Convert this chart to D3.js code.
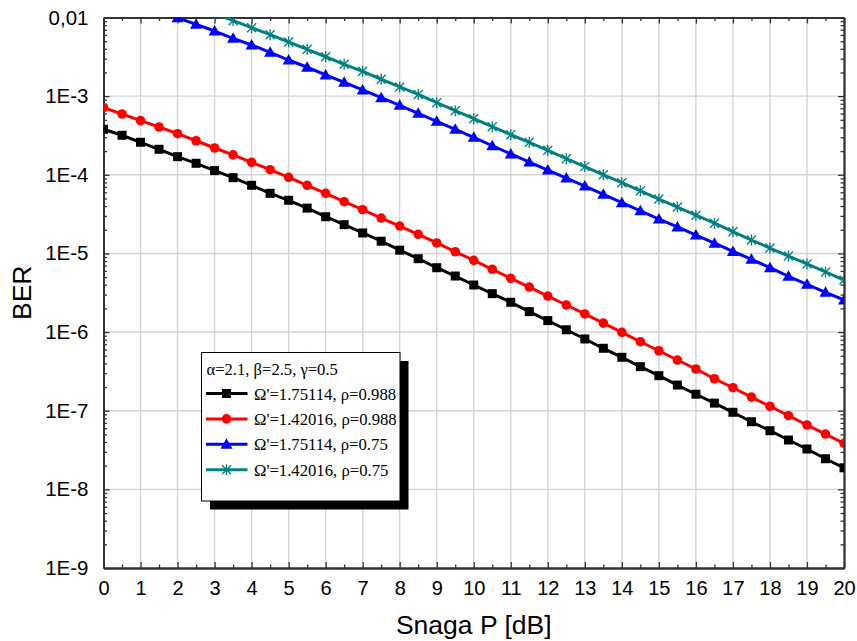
<!DOCTYPE html>
<html>
<head>
<meta charset="utf-8">
<script src="https://cdn.jsdelivr.net/npm/d3@7"></script>
<style>
  html, body { margin: 0; padding: 0; background: #fff; }
  svg { display: block; }
</style>
</head>
<body>
<svg id="chart" width="857" height="641"></svg>
<script>
// SNR axis samples (dB), one point every 0.5 dB
const snr = d3.range(0, 20.01, 0.5);

// BER curves
const berBlack = [3.79e-4, 3.18e-4, 2.59e-4, 2.11e-4, 1.70e-4, 1.40e-4, 1.13e-4, 9.18e-5, 7.35e-5, 5.81e-5,
  4.74e-5, 3.77e-5, 2.93e-5, 2.32e-5, 1.82e-5, 1.43e-5, 1.10e-5, 8.57e-6, 6.58e-6, 5.16e-6,
  3.97e-6, 3.08e-6, 2.39e-6, 1.82e-6, 1.40e-6, 1.07e-6, 8.17e-7, 6.22e-7, 4.78e-7, 3.63e-7,
  2.79e-7, 2.12e-7, 1.62e-7, 1.25e-7, 9.55e-8, 7.24e-8, 5.57e-8, 4.24e-8, 3.26e-8, 2.45e-8, 1.88e-8];
const berRed = [7.13e-4, 5.93e-4, 4.88e-4, 4.05e-4, 3.33e-4, 2.71e-4, 2.19e-4, 1.79e-4, 1.44e-4, 1.16e-4,
  9.29e-5, 7.35e-5, 5.81e-5, 4.55e-5, 3.60e-5, 2.82e-5, 2.23e-5, 1.75e-5, 1.36e-5, 1.05e-5,
  8.17e-6, 6.28e-6, 4.83e-6, 3.74e-6, 2.87e-6, 2.21e-6, 1.70e-6, 1.30e-6, 9.93e-7, 7.54e-7,
  5.79e-7, 4.41e-7, 3.39e-7, 2.55e-7, 1.96e-7, 1.49e-7, 1.14e-7, 8.64e-8, 6.58e-8, 5.05e-8, 3.85e-8];
// the two rho=0.75 curves start above the top of the BER range
const snrBlue = d3.range(1.5, 20.01, 0.5);
const berBlue = [1.245e-2, 9.9e-3, 8.19e-3, 6.73e-3, 5.44e-3, 4.47e-3, 3.61e-3, 2.88e-3, 2.33e-3, 1.86e-3,
  1.50e-3, 1.20e-3, 9.55e-4, 7.64e-4, 6.05e-4, 4.79e-4, 3.79e-4, 3.00e-4, 2.34e-4, 1.84e-4,
  1.45e-4, 1.15e-4, 9.10e-5, 7.20e-5, 5.65e-5, 4.42e-5, 3.48e-5, 2.74e-5, 2.17e-5, 1.71e-5,
  1.35e-5, 1.06e-5, 8.42e-6, 6.58e-6, 5.12e-6, 4.05e-6, 3.20e-6, 2.56e-6];
const snrTeal = d3.range(3, 20.01, 0.5);
const berTeal = [1.125e-2, 9.11e-3, 7.42e-3, 6.04e-3, 4.88e-3, 3.94e-3, 3.17e-3, 2.54e-3, 2.07e-3, 1.64e-3,
  1.31e-3, 1.05e-3, 8.25e-4, 6.53e-4, 5.17e-4, 4.09e-4, 3.23e-4, 2.59e-4, 2.05e-4, 1.60e-4,
  1.27e-4, 1.00e-4, 7.93e-5, 6.26e-5, 4.92e-5, 3.89e-5, 3.06e-5, 2.42e-5, 1.89e-5, 1.48e-5,
  1.17e-5, 9.27e-6, 7.34e-6, 5.81e-6, 4.59e-6];

const seriesLabels = ["Ω'=1.75114, ρ=0.988", "Ω'=1.42016, ρ=0.988", "Ω'=1.75114, ρ=0.75", "Ω'=1.42016, ρ=0.75"];
const paramLabel = "α=2.1, β=2.5, γ=0.5";

const xTicks = d3.range(0, 21, 1);
const yTicks = [1e-9, 1e-8, 1e-7, 1e-6, 1e-5, 1e-4, 1e-3, 1e-2];
const yTickLabels = ["1E-9", "1E-8", "1E-7", "1E-6", "1E-5", "1E-4", "1E-3", "0,01"];
const xTitle = "Snaga P [dB]";
const yTitle = "BER";

(function draw() {
  const series = [
    { x: snr, y: berBlack, color: "#000000", marker: "square", label: seriesLabels[0] },
    { x: snr, y: berRed, color: "#ff0000", marker: "circle", label: seriesLabels[1] },
    { x: snrBlue, y: berBlue, color: "#0000ff", marker: "triangle", label: seriesLabels[2] },
    { x: snrTeal, y: berTeal, color: "#008080", marker: "star", label: seriesLabels[3] }
  ];

  const svg = d3.select("#chart");
  const pLeft = 103.5, pRight = 844, pTop = 17.5, pBottom = 568;

  const x = d3.scaleLinear().domain([0, 20]).range([pLeft, pRight]);
  const y = d3.scaleLog().domain([1e-9, 1e-2]).range([pBottom, pTop]);

  // grid
  const grid = svg.append("g").attr("stroke", "#d4d4d4").attr("stroke-width", 1.4);
  grid.selectAll("line.gx").data(xTicks.slice(1, -1)).join("line").attr("class", "gx")
    .attr("x1", d => x(d)).attr("x2", d => x(d)).attr("y1", pTop).attr("y2", pBottom);
  grid.selectAll("line.gy").data(yTicks.slice(1, -1)).join("line").attr("class", "gy")
    .attr("y1", d => y(d)).attr("y2", d => y(d)).attr("x1", pLeft).attr("x2", pRight);

  // minor tick values
  const xMinor = d3.range(0.5, 20, 1);
  const yMinor = [];
  for (let e = -9; e < -2; e++) for (let m = 2; m <= 9; m++) yMinor.push(m * Math.pow(10, e));

  const axisColor = "#333";
  function styleAxis(g) {
    g.selectAll("path.domain").attr("stroke", axisColor).attr("stroke-width", 1.8);
    g.selectAll(".tick line").attr("stroke", axisColor).attr("stroke-width", 1.3);
    g.selectAll("text").attr("fill", "#000").attr("font-family", "Liberation Sans, Arial, sans-serif");
  }

  // bottom axis with labels
  const gx = svg.append("g").attr("transform", `translate(0,${pBottom})`)
    .call(d3.axisBottom(x).tickValues(xTicks).tickSizeInner(-6).tickSizeOuter(0).tickPadding(13).tickFormat(d3.format("d")));
  gx.selectAll("text").attr("font-size", 20);
  styleAxis(gx);
  styleAxis(svg.append("g").attr("transform", `translate(0,${pBottom})`)
    .call(d3.axisBottom(x).tickValues(xMinor).tickSizeInner(-3.5).tickSizeOuter(0).tickFormat("")));

  // top axis
  styleAxis(svg.append("g").attr("transform", `translate(0,${pTop})`)
    .call(d3.axisTop(x).tickValues(xTicks).tickSizeInner(-6).tickSizeOuter(0).tickFormat("")));
  styleAxis(svg.append("g").attr("transform", `translate(0,${pTop})`)
    .call(d3.axisTop(x).tickValues(xMinor).tickSizeInner(-3.5).tickSizeOuter(0).tickFormat("")));

  // left axis with labels
  const gy = svg.append("g").attr("transform", `translate(${pLeft},0)`)
    .call(d3.axisLeft(y).tickValues(yTicks).tickSizeInner(-6).tickSizeOuter(0).tickPadding(15)
      .tickFormat(d => yTickLabels[yTicks.indexOf(d)]));
  gy.selectAll("text").attr("font-size", 20.5);
  styleAxis(gy);
  styleAxis(svg.append("g").attr("transform", `translate(${pLeft},0)`)
    .call(d3.axisLeft(y).tickValues(yMinor).tickSizeInner(-3.5).tickSizeOuter(0).tickFormat("")));

  // right axis
  styleAxis(svg.append("g").attr("transform", `translate(${pRight},0)`)
    .call(d3.axisRight(y).tickValues(yTicks).tickSizeInner(-6).tickSizeOuter(0).tickFormat("")));
  styleAxis(svg.append("g").attr("transform", `translate(${pRight},0)`)
    .call(d3.axisRight(y).tickValues(yMinor).tickSizeInner(-3.5).tickSizeOuter(0).tickFormat("")));

  // axis titles
  svg.append("text").attr("x", (pLeft + pRight) / 2).attr("y", 634)
    .attr("text-anchor", "middle").attr("font-family", "Liberation Sans, Arial, sans-serif")
    .attr("font-size", 26.5).text(xTitle);
  svg.append("text").attr("transform", `translate(31,${(pTop + pBottom) / 2}) rotate(-90)`)
    .attr("text-anchor", "middle").attr("font-family", "Liberation Sans, Arial, sans-serif")
    .attr("font-size", 26.5).text(yTitle);

  // markers
  function drawMarker(g, type, color) {
    if (type === "square") {
      g.append("rect").attr("x", -4.5).attr("y", -4.5).attr("width", 9).attr("height", 9).attr("fill", color);
    } else if (type === "circle") {
      g.append("circle").attr("r", 4.8).attr("fill", color);
    } else if (type === "triangle") {
      g.append("path").attr("d", "M0,-6 L6,4.5 L-6,4.5 Z").attr("fill", color);
    } else if (type === "star") {
      g.append("path").attr("d", "M-4.5,-4.5L4.5,4.5M-4.5,4.5L4.5,-4.5M0,-5.5L0,5.5")
        .attr("stroke", color).attr("stroke-width", 1.3).attr("fill", "none");
    }
  }

  // data
  svg.append("clipPath").attr("id", "plotClip")
    .append("rect").attr("x", pLeft).attr("y", pTop).attr("width", pRight - pLeft).attr("height", pBottom - pTop);
  const plot = svg.append("g").attr("clip-path", "url(#plotClip)");
  const line = d3.line().x(d => x(d[0])).y(d => y(d[1]));

  series.forEach(s => {
    const pts = s.x.map((v, i) => [v, s.y[i]]);
    plot.append("path").datum(pts).attr("d", line)
      .attr("fill", "none").attr("stroke", s.color).attr("stroke-width", 3).attr("stroke-linejoin", "round");
    pts.forEach(p => {
      const g = plot.append("g").attr("transform", `translate(${x(p[0])},${y(p[1])})`);
      drawMarker(g, s.marker, s.color);
    });
  });

  // legend
  const lg = svg.append("g").attr("transform", "translate(201.5,352.5)");
  const lw = 198.5, lh = 148.5;
  lg.append("rect").attr("x", 8.5).attr("y", 8.5).attr("width", lw).attr("height", lh).attr("fill", "#000");
  lg.append("rect").attr("width", lw).attr("height", lh).attr("fill", "#fff").attr("stroke", "#000").attr("stroke-width", 1);
  lg.append("text").attr("x", 5).attr("y", 22).attr("font-family", "Liberation Serif, Times New Roman, serif")
    .attr("font-size", 16.6).text(paramLabel);
  series.forEach((s, i) => {
    const cy = 41 + i * 25.4;
    lg.append("line").attr("x1", 4.5).attr("x2", 46).attr("y1", cy).attr("y2", cy)
      .attr("stroke", s.color).attr("stroke-width", 3);
    const mg = lg.append("g").attr("transform", `translate(25,${cy})`);
    drawMarker(mg, s.marker, s.color);
    lg.append("text").attr("x", 52.5).attr("y", cy + 6).attr("font-family", "Liberation Serif, Times New Roman, serif")
      .attr("font-size", 16.7).text(s.label);
  });
})();
</script>
</body>
</html>
